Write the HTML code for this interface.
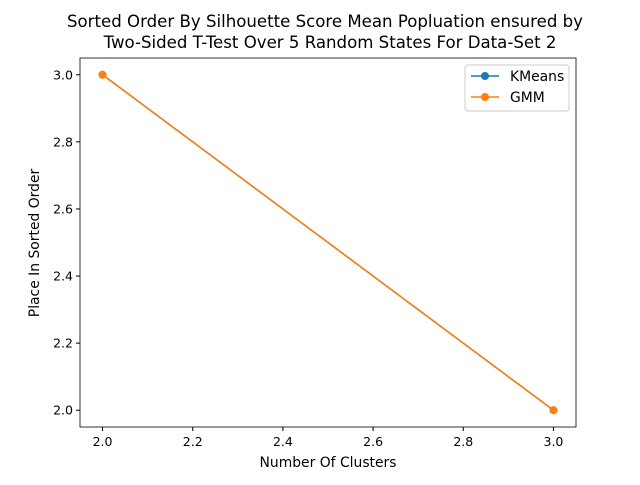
<!DOCTYPE html>
<html><head><meta charset="utf-8"><style>
body{margin:0;background:#fff;}
svg text{font-family:"DejaVu Sans","Liberation Sans",sans-serif;fill:#000;}
</style></head><body>
<svg id="chart" width="640" height="480" xmlns="http://www.w3.org/2000/svg">
<rect width="640" height="480" fill="#fff"/>
<text x="325" y="27" font-size="16.6" text-anchor="middle">Sorted Order By Silhouette Score Mean Popluation ensured by</text>
<text x="330" y="48" font-size="16.6" text-anchor="middle">Two-Sided T-Test Over 5 Random States For Data-Set 2</text>
<g id="axes"></g>
<text x="328" y="467" font-size="13.9" text-anchor="middle">Number Of Clusters</text>
<text transform="translate(39,243) rotate(-90)" font-size="13.9" text-anchor="middle">Place In Sorted Order</text>
<g>
<rect x="465" y="65" width="104" height="46" fill="#fff" stroke="#ccc" rx="3"/>
<line x1="471" y1="76" x2="499" y2="76" stroke="#1f77b4" stroke-width="1.5"/><circle cx="485" cy="76" r="4" fill="#1f77b4"/>
<text x="510" y="81" font-size="13.9">KMeans</text>
<line x1="471" y1="97" x2="499" y2="97" stroke="#ff7f0e" stroke-width="1.5"/><circle cx="485" cy="97" r="4" fill="#ff7f0e"/>
<text x="510" y="102" font-size="13.9">GMM</text>
</g>
</svg>
<script>
const clusters=[2,3];
const kmeansValues=[3,2];
const gmmValues=[3,2];
const xTicks=[2.0,2.2,2.4,2.6,2.8,3.0];
const yTicks=[2.0,2.2,2.4,2.6,2.8,3.0];
const L=80,R=576,T=58,B=427;
const xMin=1.95,xMax=3.05,yMin=1.95,yMax=3.05;
const sx=v=>L+(v-xMin)/(xMax-xMin)*(R-L);
const sy=v=>B-(v-yMin)/(yMax-yMin)*(B-T);
const NS="http://www.w3.org/2000/svg";
const g=document.getElementById('axes');
function mk(t,a){const e=document.createElementNS(NS,t);for(const k in a)e.setAttribute(k,a[k]);g.appendChild(e);return e;}
xTicks.forEach(v=>{const x=sx(v);
const l=mk('line',{x1:x,x2:x,y1:B,y2:B+4,stroke:'#000'});


const t=mk('text',{x:x,y:B+19,'font-size':12.5,'text-anchor':'middle'});t.textContent=v.toFixed(1);

});
yTicks.forEach(v=>{const y=sy(v);
const l=mk('line',{x1:L-4,x2:L,y1:y,y2:y,stroke:'#000'});


const t=mk('text',{x:L-7,y:y+4.5,'font-size':12.5,'text-anchor':'end'});t.textContent=v.toFixed(1);

});
function series(vals,color,name){
const p=mk('polyline',{points:clusters.map((c,i)=>sx(c)+','+sy(vals[i])).join(' '),fill:'none',stroke:color,'stroke-width':1.5});


clusters.forEach((c,i)=>{const m=mk('circle',{cx:sx(c),cy:sy(vals[i]),r:4,fill:color});

});}
series(kmeansValues,'#1f77b4','kmeans');
series(gmmValues,'#ff7f0e','gmm');
const f=mk('rect',{x:L,y:T,width:R-L,height:B-T,fill:'none',stroke:'#000','stroke-width':0.8});


</script>
</body></html>
